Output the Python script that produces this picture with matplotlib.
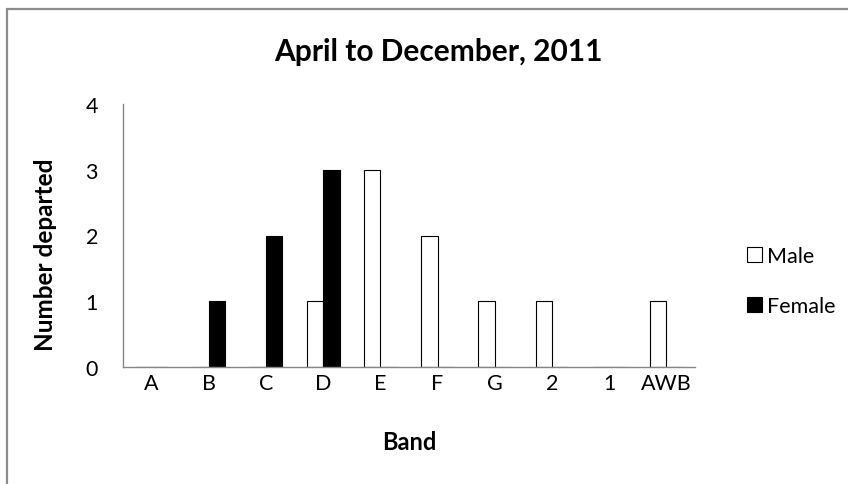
import numpy as np
import matplotlib.pyplot as plt
from matplotlib.patches import Rectangle, Patch

# Chart data
bands = ["A", "B", "C", "D", "E", "F", "G", "2", "1", "AWB"]
male = [0, 0, 0, 1, 3, 2, 1, 1, 0, 1]
female = [0, 1, 2, 3, 0, 0, 0, 0, 0, 0]
yticks = [0, 1, 2, 3, 4]

plt.rcParams["font.family"] = ["Lato", "DejaVu Sans"]

W, H = 848, 485
fig = plt.figure(figsize=(W / 100, H / 100), dpi=100)
ax = fig.add_axes([123 / W, 1 - 368 / H, (695 - 123) / W, (368 - 105) / H])

# outer chart-area border (only left and top visible in the reference)
fig.patches.append(Rectangle((7 / W, -0.5), 2.0, 0.5 + 1 - 10 / H,
                             transform=fig.transFigure, fill=False,
                             edgecolor="#8c8c8c", linewidth=1.6))

x = np.arange(len(bands))
w = 1 / 3.5
ax.bar(x - w / 2, male, w, color="white", edgecolor="black", linewidth=0.8)
ax.bar(x + w / 2, female, w, color="black", edgecolor="black", linewidth=0.8)

ax.set_xlim(-0.5, len(bands) - 0.5)
ax.set_ylim(0, 4)
ax.set_yticks(yticks)
ax.set_xticks(x)
ax.set_xticklabels(bands)
ax.tick_params(axis="both", length=0, labelsize=15.5)
ax.tick_params(axis="y", pad=18)
ax.tick_params(axis="x", pad=4)

for side in ["top", "right"]:
    ax.spines[side].set_visible(False)
for side in ["left", "bottom"]:
    ax.spines[side].set_color("#868686")
    ax.spines[side].set_linewidth(1.0)

fig.text(438 / W, 1 - 52 / H, "April to December, 2011", fontsize=21.5,
         fontweight="bold", ha="center", va="center")
ax.set_ylabel("Number departed", fontsize=17.5, fontweight="bold", va="center")
ax.yaxis.set_label_coords((45 - 123) / 572, (368 - 255) / 263)
ax.set_xlabel("Band", fontsize=17, fontweight="bold", va="center")
ax.xaxis.set_label_coords(0.5, (368 - 443) / 263)

handles = [Patch(facecolor="white", edgecolor="black", linewidth=0.8),
           Patch(facecolor="black", edgecolor="black", linewidth=0.8)]
fig.legend(handles, ["Male", "Female"], loc="center left",
           bbox_to_anchor=(728 / W, 1 - 282 / H), frameon=False,
           fontsize=15.5, handlelength=0.7, handleheight=0.7,
           handletextpad=0.2, labelspacing=1.4)

fig.savefig("out.png", dpi=100)
